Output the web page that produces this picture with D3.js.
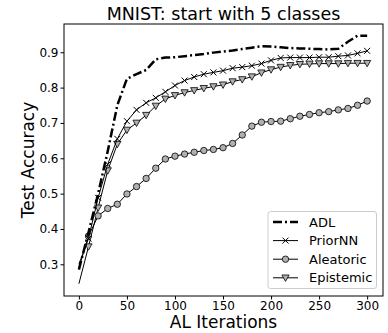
<html>
<head>
<script src="https://d3js.org/d3.v7.min.js"></script>
<style>
body { margin: 0; background: white; }
text { font-family: "DejaVu Sans", sans-serif; }
</style>
</head>
<body>
<svg width="388" height="333"></svg>
<script>
// data
var iterations = [0, 10, 20, 30, 40, 50, 60, 70, 80, 90, 100, 110, 120, 130, 140, 150,
                  160, 170, 180, 190, 200, 210, 220, 230, 240, 250, 260, 270, 280, 290, 300];
var adl = [0.285, 0.39, 0.50, 0.62, 0.75, 0.825, 0.838, 0.85, 0.88, 0.885, 0.886, 0.889, 0.892, 0.895, 0.899,
           0.902, 0.905, 0.909, 0.913, 0.917, 0.916, 0.914, 0.912, 0.911, 0.910, 0.909, 0.908, 0.910, 0.93, 0.947, 0.947];
var priorNN = [0.30, 0.373, 0.488, 0.583, 0.655, 0.705, 0.737, 0.757, 0.771, 0.788, 0.806, 0.82, 0.83, 0.838, 0.843,
               0.848, 0.855, 0.858, 0.862, 0.868, 0.877, 0.884, 0.885, 0.885, 0.885, 0.886, 0.886, 0.889, 0.891, 0.897, 0.904];
var aleatoric = [0.29, 0.38, 0.437, 0.458, 0.47, 0.499, 0.52, 0.543, 0.572, 0.598, 0.606, 0.612, 0.617, 0.622, 0.625,
                 0.63, 0.642, 0.666, 0.691, 0.702, 0.704, 0.705, 0.712, 0.719, 0.724, 0.729, 0.732, 0.737, 0.741, 0.75, 0.762];
var epistemic = [0.245, 0.35, 0.46, 0.565, 0.64, 0.68, 0.70, 0.722, 0.748, 0.768, 0.778, 0.786, 0.792, 0.798, 0.803,
                 0.808, 0.817, 0.823, 0.831, 0.842, 0.851, 0.858, 0.863, 0.866, 0.867, 0.868, 0.868, 0.868, 0.869, 0.869, 0.869];
var seriesNames = ["ADL", "PriorNN", "Aleatoric", "Epistemic"];
var xTicks = [0, 50, 100, 150, 200, 250, 300];
var yTicks = [0.3, 0.4, 0.5, 0.6, 0.7, 0.8, 0.9];

var svg = d3.select("svg");
var pLeft = 64, pRight = 383, pTop = 24, pBottom = 296;

var xs = d3.scaleLinear().domain([-15.5, 316.5]).range([pLeft, pRight]);
var ys = d3.scaleLinear().domain([0.2103, 0.980]).range([pBottom, pTop]);

// axes
svg.append("g").attr("transform", "translate(0," + pBottom + ")")
  .call(d3.axisBottom(xs).tickValues(xTicks).tickSize(3.5).tickPadding(2).tickFormat(d3.format("d")))
  .call(function(g) { g.select(".domain").remove(); })
  .selectAll("text").style("font-size", "12px").attr("fill", "black");

svg.append("g").attr("transform", "translate(" + pLeft + ",0)")
  .call(d3.axisLeft(ys).tickValues(yTicks).tickSize(3.5).tickPadding(2).tickFormat(d3.format(".1f")))
  .call(function(g) { g.select(".domain").remove(); })
  .selectAll("text").style("font-size", "12px").attr("fill", "black");

// plot frame
svg.append("rect")
  .attr("x", pLeft).attr("y", pTop)
  .attr("width", pRight - pLeft).attr("height", pBottom - pTop)
  .attr("fill", "none").attr("stroke", "black").attr("stroke-width", 1);

var allSeries = [
  {name: "ADL", values: adl, width: 2.5, dash: "9,3,2,3", marker: "none"},
  {name: "PriorNN", values: priorNN, width: 1, dash: null, marker: "x"},
  {name: "Aleatoric", values: aleatoric, width: 1, dash: null, marker: "circle"},
  {name: "Epistemic", values: epistemic, width: 1, dash: null, marker: "tri"}
];

var line = d3.line()
  .x(function(d) { return xs(d[0]); })
  .y(function(d) { return ys(d[1]); });

function drawMarker(g, type, cx, cy) {
  if (type == "x") {
    g.append("path")
      .attr("d", "M" + (cx - 3) + "," + (cy - 3) + "L" + (cx + 3) + "," + (cy + 3) +
                 "M" + (cx - 3) + "," + (cy + 3) + "L" + (cx + 3) + "," + (cy - 3))
      .attr("stroke", "black").attr("stroke-width", 1);
  } else if (type == "circle") {
    g.append("circle").attr("cx", cx).attr("cy", cy).attr("r", 3.2)
      .attr("fill", "#b0b0b0").attr("stroke", "black").attr("stroke-width", 0.8);
  } else if (type == "tri") {
    g.append("path")
      .attr("d", "M" + (cx - 3.6) + "," + (cy - 2.8) + "L" + (cx + 3.6) + "," + (cy - 2.8) + "L" + cx + "," + (cy + 3.6) + "Z")
      .attr("fill", "#b0b0b0").attr("stroke", "black").attr("stroke-width", 0.8);
  }
}

var plot = svg.append("g");
allSeries.slice().reverse().forEach(function(s) {
  var pts = iterations.map(function(it, i) { return [it, s.values[i]]; });
  var g = plot.append("g");
  g.append("path").datum(pts)
    .attr("d", line)
    .attr("fill", "none")
    .attr("stroke", "black")
    .attr("stroke-width", s.width)
    .attr("stroke-dasharray", s.dash);
  // the first point carries no marker in the original
  pts.slice(1).forEach(function(p) { drawMarker(g, s.marker, xs(p[0]), ys(p[1])); });
});

// legend
var leg = svg.append("g");
leg.append("rect")
  .attr("x", 268).attr("y", 211.5).attr("width", 108.5).attr("height", 77)
  .attr("rx", 2.5).attr("fill", "white").attr("stroke", "#cccccc").attr("stroke-width", 1);
allSeries.forEach(function(s, i) {
  var ly = 222 + i * 18.6;
  leg.append("line").attr("x1", 273).attr("x2", 298).attr("y1", ly).attr("y2", ly)
    .attr("stroke", "black").attr("stroke-width", s.width).attr("stroke-dasharray", s.dash);
  drawMarker(leg, s.marker, 285.5, ly);
  leg.append("text").attr("x", 309).attr("y", ly + 4.5)
    .style("font-size", "13px").text(seriesNames[i]);
});

// titles
svg.append("text")
  .attr("x", 223.5).attr("y", 20)
  .style("text-anchor", "middle")
  .style("font-size", "17.5px")
  .text("MNIST: start with 5 classes");

svg.append("text")
  .attr("x", 223.5).attr("y", 328)
  .style("text-anchor", "middle")
  .style("font-size", "17px")
  .text("AL Iterations");

svg.append("text")
  .attr("transform", "translate(34,160) rotate(-90)")
  .style("text-anchor", "middle")
  .style("font-size", "17px")
  .text("Test Accuracy");
</script>
</body>
</html>
